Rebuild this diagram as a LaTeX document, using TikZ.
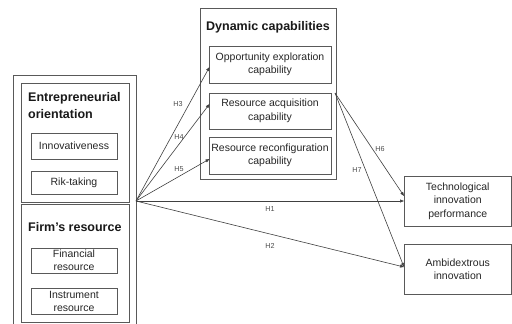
\documentclass[tikz,border=0pt]{standalone}
\usepackage{fontspec}
\setmainfont{Liberation Sans}
\usetikzlibrary{arrows.meta}
\begin{document}
\begin{tikzpicture}[x=1pt,y=-1pt,
  box/.style={draw=black!65, line width=0.7pt, rectangle, inner sep=0pt},
  item/.style={box, align=center, font=\fontsize{10.5}{13.5}\selectfont, text=black!85},
  title/.style={font=\fontsize{12.5}{14}\selectfont\bfseries, text=black!90, inner sep=0pt, anchor=west},
  hlab/.style={font=\fontsize{7.2}{9}\selectfont, text=black!70, inner sep=0pt},
  link/.style={draw=black!75, line width=0.6pt, -{Triangle[length=4pt,width=3pt]}},
  plain/.style={draw=black!75, line width=0.6pt}]
\useasboundingbox (0,0) rectangle (512,324);
\fill[white] (0,0) rectangle (512,324);
% left side
\draw[box] (13,75) rectangle (136,340);
\node[box, minimum width=108pt, minimum height=119pt] (eo) at (75,142.5) {};
\node[box, minimum width=108pt, minimum height=118pt] (fr) at (75,263) {};
\node[title, align=left, font=\fontsize{12.5}{17}\selectfont\bfseries] (eot) at (28,106) {Entrepreneurial\\orientation};
\node[title] (frt) at (28,227) {Firm's resource};
\node[item, minimum width=86pt, minimum height=26pt] (inn) at (74,146) {Innovativeness};
\node[item, minimum width=86pt, minimum height=23pt] (rik) at (74,182.5) {Rik-taking};
\node[item, minimum width=86pt, minimum height=25pt, font=\fontsize{10.5}{13}\selectfont] (fin) at (74,260.5) {Financial\\resource};
\node[item, minimum width=86pt, minimum height=26pt, font=\fontsize{10.5}{13}\selectfont] (ins) at (74,301) {Instrument\\resource};
% dynamic capabilities
\node[box, minimum width=136pt, minimum height=171pt] (dc) at (268,93.5) {};
\node[title, anchor=center] (dct) at (268,27) {Dynamic capabilities};
\node[item, minimum width=122pt, minimum height=37pt] (opp) at (270,64.5) {Opportunity exploration\\capability};
\node[item, minimum width=122pt, minimum height=36pt] (acq) at (270,111) {Resource acquisition\\capability};
\node[item, minimum width=122pt, minimum height=37pt] (rec) at (270,155.5) {Resource reconfiguration\\capability};
% outcomes
\node[item, minimum width=107.5pt, minimum height=50pt] (tech) at (457.75,201) {Technological\\innovation\\performance};
\node[item, minimum width=107.5pt, minimum height=50pt] (amb) at (457.75,269) {Ambidextrous\\innovation};
% coordinates
\coordinate (hub) at (136,201);
\coordinate (dcout) at (335,93);
\coordinate (e3) at (209.5,67);
\coordinate (e4) at (209.5,104);
\coordinate (e5) at (209.5,159);
\coordinate (e1) at (404,201);
\coordinate (e2) at (404,267);
\coordinate (e6) at (404,196);
% links
\draw[link] (hub) -- (e3);
\draw[link] (hub) -- (e4);
\draw[link] (hub) -- (e5);
\draw[link] (hub) -- (e1);
\draw[link] (hub) -- (e2);
\draw[link] (dcout) -- (e6);
\draw[link] (dcout) -- (e2);
% labels
\node[hlab] (h3) at (178,104) {H3};
\node[hlab] (h4) at (179,137) {H4};
\node[hlab] (h5) at (179,169) {H5};
\node[hlab] (h1) at (270,209) {H1};
\node[hlab] (h2) at (270,246) {H2};
\node[hlab] (h6) at (380,149) {H6};
\node[hlab] (h7) at (357,170) {H7};
\end{tikzpicture}
\end{document}
